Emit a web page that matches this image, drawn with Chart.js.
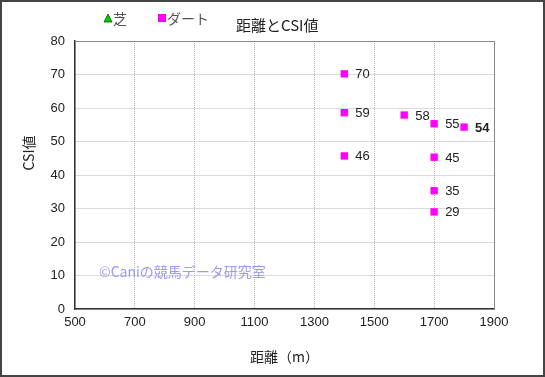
<!DOCTYPE html>
<html><head><meta charset="utf-8">
<script src="https://cdn.jsdelivr.net/npm/chart.js@4"></script>
<style>html,body{margin:0;padding:0;background:#fff}#wrap{width:545px;height:377px;position:relative}</style>
</head><body><div id="wrap"><canvas id="c" width="545" height="377"></canvas></div>
<script>
const chartTitle = '距離とCSI値';
const xTitle = '距離（m）';
const yTitle = 'CSI値';
const seriesNames = ['芝', 'ダート'];
const turfDistance = [];
const turfCSI = [];
const dirtDistance = [1400, 1400, 1400, 1600, 1700, 1800, 1700, 1700, 1700];
const dirtCSI = [70.2, 58.6, 45.7, 57.9, 55.3, 54.3, 45.3, 35.3, 29.0];
const dirtLabels = ['70', '59', '46', '58', '55', '54', '45', '35', '29'];
const boldLabels = ['54'];
const watermark = '©Caniの競馬データ研究室';

const FONT = '"Liberation Sans", Arial, "Noto Sans CJK JP", sans-serif';
const JFONT = '"Noto Sans CJK JP", "Liberation Sans", sans-serif';

const deco = {
  id: 'deco',
  afterDatasetsDraw(chart) {
    const ctx = chart.ctx, a = chart.chartArea;
    ctx.save();
    // top/right frame
    ctx.strokeStyle = '#888'; ctx.lineWidth = 1;
    ctx.beginPath();
    ctx.moveTo(a.left, a.top + 0.5); ctx.lineTo(a.right + 0.5, a.top + 0.5); ctx.lineTo(a.right + 0.5, a.bottom);
    ctx.stroke();
    // point labels
    const meta = chart.getDatasetMeta(1);
    ctx.fillStyle = '#222'; ctx.textBaseline = 'middle'; ctx.textAlign = 'left';
    meta.data.forEach((p, i) => {
      const lab = dirtLabels[i];
      ctx.font = (boldLabels.includes(lab) ? 'bold ' : '') + '13px ' + FONT;
      ctx.fillText(lab, p.x + 11, p.y + 1);
    });
    // watermark
    ctx.fillStyle = '#9a9af0';
    ctx.font = '14px ' + JFONT;
    ctx.fillText(watermark, 99, 272);
    // title
    ctx.fillStyle = '#222';
    ctx.font = '15px ' + JFONT;
    ctx.textAlign = 'left';
    ctx.fillText(chartTitle, 236, 25);
    // y title
    ctx.save();
    ctx.translate(29, 153); ctx.rotate(-Math.PI / 2);
    ctx.textAlign = 'center'; ctx.font = '14px ' + JFONT;
    ctx.fillText(yTitle, 0, 0);
    ctx.restore();
    // legend
    ctx.fillStyle = '#00cc00'; ctx.strokeStyle = '#005500'; ctx.lineWidth = 0.8;
    ctx.beginPath(); ctx.moveTo(108, 14); ctx.lineTo(104, 22); ctx.lineTo(112, 22); ctx.closePath(); ctx.fill(); ctx.stroke();
    ctx.fillStyle = '#555'; ctx.font = '14px ' + JFONT;
    ctx.fillText(seriesNames[0], 113, 19);
    ctx.fillStyle = '#ff00ff';
    ctx.fillRect(158, 14, 8, 8);
    ctx.fillStyle = '#555';
    ctx.fillText(seriesNames[1], 167, 19);
    // outer border
    ctx.strokeStyle = '#444'; ctx.lineWidth = 2;
    ctx.strokeRect(1, 1, 543, 375);
    ctx.restore();
  }
};

new Chart(document.getElementById('c'), {
  type: 'scatter',
  data: {
    datasets: [
      { label: seriesNames[0], data: turfDistance.map((x, i) => ({x, y: turfCSI[i]})),
        pointStyle: 'triangle', backgroundColor: '#00cc00', borderColor: '#005500', pointRadius: 5 },
      { label: seriesNames[1], data: dirtDistance.map((x, i) => ({x, y: dirtCSI[i]})),
        pointStyle: 'rect', backgroundColor: '#ff00ff', borderColor: '#ff00ff', borderWidth: 0, pointRadius: 5.2, pointHoverRadius: 5.2 }
    ]
  },
  options: {
    responsive: false, animation: false,
    layout: { padding: { left: 0, right: 51, top: 41, bottom: 8 } },
    plugins: { legend: { display: false }, tooltip: { enabled: false }, title: { display: false } },
    scales: {
      x: {
        type: 'linear', min: 500, max: 1900,
        ticks: { stepSize: 200, color: '#222', font: { size: 13, family: FONT }, padding: 6, maxRotation: 0,
                 callback: v => String(v) },
        grid: { color: '#b4b4b4', lineWidth: 1, drawTicks: false },
        border: { color: '#333', width: 1.5, dash: [1, 1] },
        title: { display: true, text: xTitle, color: '#222', font: { size: 14, family: JFONT }, padding: { top: 8 } },
        afterFit(s) { s.height = 60; }
      },
      y: {
        min: 0, max: 80,
        ticks: { stepSize: 10, color: '#222', font: { size: 13, family: FONT }, padding: 10 },
        grid: { color: '#b4b4b4', lineWidth: 1, drawTicks: false },
        border: { color: '#333', width: 1.5, dash: [1, 1] },
        title: { display: false },
        afterFit(s) { s.width = 75; }
      }
    }
  },
  plugins: [deco]
});
</script></body></html>
